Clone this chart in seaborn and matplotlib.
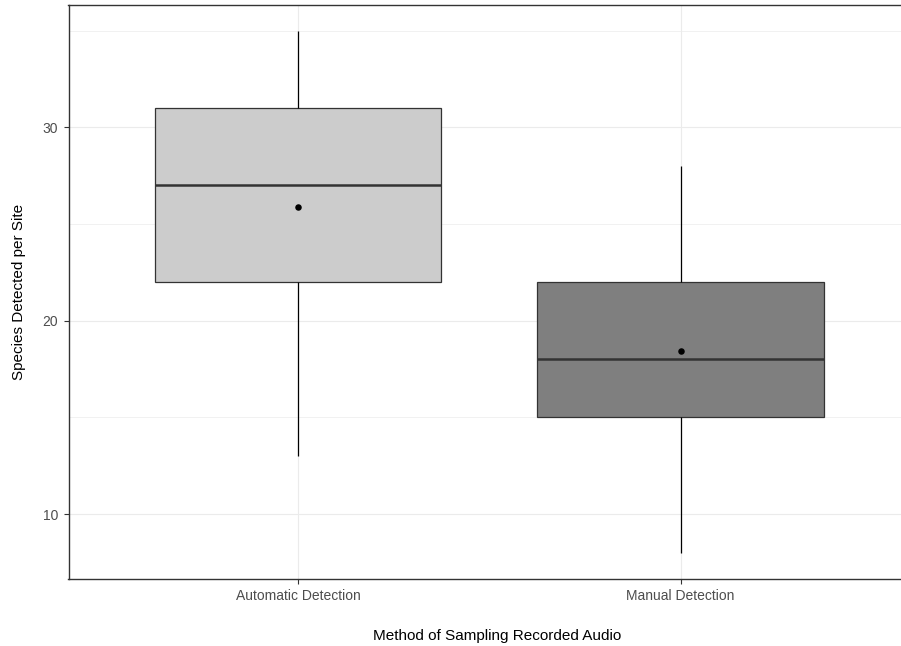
import matplotlib
matplotlib.use("Agg")
import matplotlib.pyplot as plt
import seaborn as sns
import pandas as pd

methods = ["Automatic Detection", "Manual Detection"]
whisker_low = [13, 8]
q1 = [22, 15]
median = [27, 18]
q3 = [31, 22]
whisker_high = [35, 28]
means = [25.9, 18.45]
fills = ["#CCCCCC", "#7F7F7F"]

rows = []
for i, m in enumerate(methods):
    for v in (whisker_low[i], q1[i], median[i], q3[i], whisker_high[i]):
        rows.append({"method": m, "species": v})
df = pd.DataFrame(rows)
mean_df = pd.DataFrame({"method": methods, "mean": means})

sns.set_theme(style="white")
plt.rcParams["font.family"] = ["Liberation Sans", "DejaVu Sans"]

fig = plt.figure(figsize=(9.01, 6.46), dpi=100)
ax = fig.add_axes([68.5 / 901, 1 - 579 / 646, (910 - 68.5) / 901, (579 - 4.5) / 646])

sns.boxplot(data=df, x="method", y="species", hue="method", palette=fills,
            width=0.75, whis=1.5, ax=ax, legend=False, zorder=3,
            boxprops=dict(edgecolor="#333333", linewidth=0.9),
            medianprops=dict(color="#333333", linewidth=1.8),
            whiskerprops=dict(color="black", linewidth=0.9),
            capprops=dict(linewidth=0), showcaps=False, flierprops=dict(marker=""))
sns.scatterplot(data=mean_df, x="method", y="mean", color="black", s=22,
                edgecolor="black", linewidth=0, ax=ax, zorder=5)

ax.set_xlim(-0.6, 1.6)
ax.set_ylim(6.65, 36.35)
ax.set_yticks([10, 20, 30])
ax.set_yticks([15, 25, 35], minor=True)
ax.grid(True, which="major", color="#EBEBEB", linewidth=0.8, zorder=0)
ax.grid(True, which="minor", color="#EBEBEB", linewidth=0.5, zorder=0)
ax.set_axisbelow(True)
for s in ax.spines.values():
    s.set_color("#333333")
    s.set_linewidth(1.0)
ax.tick_params(axis="both", which="major", length=3.5, width=0.8, color="#333333",
               labelsize=10, labelcolor="#4D4D4D", pad=4, bottom=True, left=True)
ax.tick_params(axis="both", which="minor", length=0)
ax.set_xlabel("Method of Sampling Recorded Audio", fontsize=11, color="black")
ax.set_ylabel("Species Detected per Site", fontsize=11, color="black", labelpad=12)
ax.xaxis.set_label_coords((497 - 68.5) / (910 - 68.5), -0.087)

fig.savefig("out.png", dpi=100)
